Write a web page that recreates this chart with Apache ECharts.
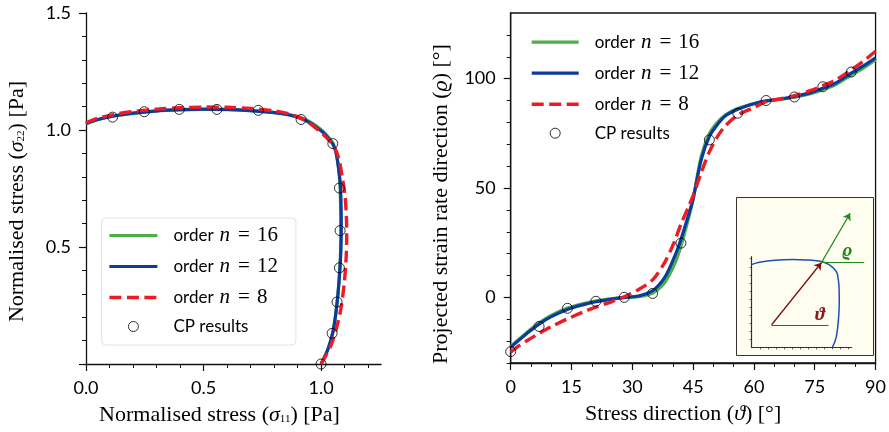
<!DOCTYPE html>
<html lang="en">
<head>
    <meta charset="utf-8">
    <title>Yield locus and strain rate direction</title>
    <script src="https://cdn.jsdelivr.net/npm/echarts@6/dist/echarts.min.js"></script>
    <style>
        html, body { margin: 0; padding: 0; background: #fff; }
        #chart { width: 889px; height: 432px; }
    </style>
</head>
<body>
<div id="chart"></div>
<script type="text/javascript">
    // ---- left panel: yield locus (sigma11, sigma22) ----
    var s11_n16 = [0, 0.05, 0.116, 0.2, 0.3, 0.4, 0.5, 0.6, 0.7, 0.8, 0.86, 0.911, 0.95, 0.982, 1.01, 1.035, 1.052, 1.065, 1.074, 1.08, 1.083, 1.084, 1.083, 1.079, 1.072, 1.062, 1.05, 1.03, 1.0];
    var s22_n16 = [1.027, 1.044, 1.059, 1.071, 1.081, 1.086, 1.088, 1.087, 1.083, 1.075, 1.067, 1.054, 1.037, 1.016, 0.993, 0.965, 0.94, 0.9, 0.84, 0.77, 0.68, 0.57, 0.48, 0.4, 0.3, 0.21, 0.135, 0.065, 0];
    var s11_n12 = [0, 0.05, 0.116, 0.2, 0.3, 0.4, 0.5, 0.6, 0.7, 0.8, 0.86, 0.911, 0.95, 0.982, 1.01, 1.035, 1.05, 1.063, 1.074, 1.082, 1.085, 1.086, 1.084, 1.08, 1.072, 1.062, 1.05, 1.03, 1.0];
    var s22_n12 = [1.027, 1.045, 1.06, 1.072, 1.082, 1.087, 1.089, 1.088, 1.083, 1.074, 1.065, 1.05, 1.032, 1.01, 0.988, 0.96, 0.94, 0.905, 0.84, 0.77, 0.68, 0.57, 0.48, 0.4, 0.3, 0.21, 0.135, 0.065, 0];
    var s11_n8 = [0, 0.05, 0.116, 0.2, 0.3, 0.4, 0.5, 0.6, 0.7, 0.8, 0.86, 0.911, 0.95, 0.982, 1.01, 1.035, 1.055, 1.075, 1.09, 1.102, 1.108, 1.109, 1.106, 1.098, 1.085, 1.065, 1.04, 1.0];
    var s22_n8 = [1.03, 1.05, 1.066, 1.079, 1.089, 1.095, 1.098, 1.097, 1.092, 1.082, 1.07, 1.052, 1.03, 1.005, 0.98, 0.955, 0.93, 0.88, 0.8, 0.72, 0.62, 0.54, 0.44, 0.34, 0.24, 0.15, 0.075, 0];
    var cp_s11 = [0.113, 0.248, 0.397, 0.557, 0.733, 0.915, 1.05, 1.078, 1.081, 1.078, 1.068, 1.047, 1.0];
    var cp_s22 = [1.055, 1.078, 1.088, 1.088, 1.084, 1.045, 0.942, 0.752, 0.57, 0.411, 0.265, 0.131, 0.0];

    // ---- right panel: projected strain rate direction vs stress direction ----
    var theta = [0, 2, 4, 7, 10, 14, 18, 21, 25, 28, 31.5, 35, 38, 40.5, 42, 44, 45, 47, 49, 51, 53, 56, 60, 63, 67, 70, 74, 77, 80, 84, 87, 90];
    var rho_n16 = [-22.5, -19.2, -16, -11.6, -8.2, -4.9, -2.8, -1.6, -0.6, -0.1, 0.3, 2.0, 6.8, 15.5, 23.5, 37, 45, 64.5, 74.8, 80, 83.5, 86.3, 88.6, 89.7, 90.7, 91.5, 93.1, 95, 97.1, 101.6, 104.8, 108.5];
    var rho_n12 = [-22.8, -19.6, -16.5, -12.2, -8.8, -5.5, -3.3, -2.0, -0.8, 0, 0.6, 3.0, 9.1, 19, 26.6, 38.5, 45, 63, 73.5, 79, 83, 86, 88.5, 89.8, 90.8, 91.8, 93.6, 95.6, 97.8, 102.5, 105.8, 109.5];
    var rho_n8 = [-25, -22.2, -19.8, -16.5, -13.4, -9.8, -6.6, -4.5, -1.9, 0.3, 3.5, 8.0, 16, 26, 33.5, 42, 46.5, 57, 66.5, 73.5, 78.5, 83.3, 86.8, 89.5, 90.9, 92.2, 94.6, 96.8, 99.2, 104, 108, 112.5];
    var cp_theta = [0, 7, 14, 21, 28, 35, 42, 49, 56, 63, 70, 77, 84];
    var cp_rho = [-24.8, -13.3, -5.0, -1.8, 0, 1.8, 24.8, 72.0, 84.2, 90.0, 91.6, 96.3, 103.0];

    // ---- inset sketch: stress direction (red) and strain rate direction (green) ----
    var insetTheta = [[0.247, 0.28], [0.864, 1.05]];
    var insetThetaRef = [[0.247, 0.28], [0.952, 0.28]];
    var insetRho = [[0.864, 1.05], [1.221, 1.665]];
    var insetRhoRef = [[0.864, 1.05], [1.395, 1.05]];

    // ---- ticks ----
    var leftXMajor = [0, 0.5, 1.0];
    var leftXMinor = [0.1, 0.2, 0.3, 0.4, 0.6, 0.7, 0.8, 0.9, 1.1, 1.2];
    var leftYMajor = [0, 0.5, 1.0, 1.5];
    var leftYLabels = [0.5, 1.0, 1.5];
    var leftYMinor = [0.1, 0.2, 0.3, 0.4, 0.6, 0.7, 0.8, 0.9, 1.1, 1.2, 1.3, 1.4];
    var rightXMajor = [0, 15, 30, 45, 60, 75, 90];
    var rightXMinor = [5, 10, 20, 25, 35, 40, 50, 55, 65, 70, 80, 85];
    var rightYMajor = [0, 50, 100];
    var rightYMinor = [-30, -20, -10, 10, 20, 30, 40, 60, 70, 80, 90, 110, 120];
    var insetXTicks = [0.1, 0.2, 0.3, 0.4, 0.5, 0.6, 0.7, 0.8, 0.9, 1.0, 1.1, 1.2];
    var insetYTicks = [0.1, 0.2, 0.3, 0.4, 0.5, 0.6, 0.7, 0.8, 0.9, 1.0, 1.1];

    var orders = [16, 12, 8];
    var names = ['n16', 'n12', 'n8', 'cp'];

    var GREEN = '#4dae4a', BLUE = '#0b3c9c', RED = '#ec1c24';
    var SANS = 'Lato', SERIF = 'Liberation Serif';

    function pair(xs, ys) {
        return xs.map(function (x, i) { return [x, ys[i]]; });
    }

    var nameRich = {
        i: { fontFamily: SERIF, fontStyle: 'italic', fontSize: 22, color: '#000' },
        s: { fontFamily: SERIF, fontSize: 11, color: '#000', padding: [8, 0, 0, 0] }
    };
    function axisName(pad) {
        return { fontFamily: SERIF, fontSize: 22, color: '#000', padding: pad, rich: nameRich };
    }
    var lineAxis = { show: true, onZero: false, lineStyle: { color: '#111', width: 1.3 } };
    var tickLabel = { fontFamily: SANS, fontSize: 18, color: '#000' };

    function mainAxis(grid, min, max, major, labels, fmt, extra) {
        var a = {
            type: 'value', gridIndex: grid, min: min, max: max,
            axisLine: lineAxis,
            axisTick: { show: true, customValues: major, length: 7, lineStyle: { color: '#111', width: 1.2 } },
            axisLabel: Object.assign({ show: true, customValues: labels, margin: 15, formatter: fmt }, tickLabel),
            splitLine: { show: false }
        };
        return Object.assign(a, extra);
    }
    function minorAxis(grid, min, max, minor, pos) {
        return {
            type: 'value', gridIndex: grid, min: min, max: max, position: pos,
            axisLine: { show: false, onZero: false },
            axisTick: { show: true, customValues: minor, length: 4, lineStyle: { color: '#111', width: 1 } },
            axisLabel: { show: false },
            splitLine: { show: false }
        };
    }
    function insetAxis(grid, max, ticks, visible) {
        return {
            type: 'value', gridIndex: grid, min: 0, max: max, show: visible,
            axisLine: { show: true, onZero: false, lineStyle: { color: '#333', width: 1.2 } },
            axisTick: { show: true, customValues: ticks, length: 2, lineStyle: { color: '#333', width: 0.8 } },
            axisLabel: { show: false }, splitLine: { show: false }
        };
    }
    var f1 = function (v) { return v.toFixed(1); };
    var f0 = function (v) { return String(Math.round(v)); };

    var legendFmt = function (name) {
        if (name === 'cp') return '{o|CP results}';
        return '{o|order}{m|n}{r|=}{d|' + orders[names.indexOf(name)] + '}';
    };
    var legendRich = {
        o: { fontFamily: SANS, fontSize: 17, color: '#000', lineHeight: 20 },
        m: { fontFamily: SERIF, fontStyle: 'italic', fontSize: 21, color: '#000', lineHeight: 20, padding: [0, 7, 0, 6] },
        r: { fontFamily: SERIF, fontSize: 21, color: '#000', lineHeight: 20, padding: [0, 7, 0, 1] },
        d: { fontFamily: SERIF, fontSize: 21, color: '#000', lineHeight: 20 }
    };
    var legendData = names.map(function (n) {
        if (n === 'cp') {
            return { name: n, itemStyle: { color: 'rgba(0,0,0,0)', borderColor: '#000', borderWidth: 1 } };
        }
        return { name: n, itemStyle: { opacity: 0 } };
    });

    function curveSeries(name, color, data, xi, yi, dashed) {
        return {
            name: name, type: 'line', xAxisIndex: xi, yAxisIndex: yi,
            data: data, symbol: 'none', smooth: 0.3, silent: true,
            lineStyle: { color: color, width: dashed ? 3.4 : 3.2, type: dashed ? [12, 5.5] : 'solid', cap: 'butt' },
            itemStyle: { color: color }
        };
    }
    function cpSeries(data, xi, yi) {
        return {
            name: 'cp', type: 'scatter', xAxisIndex: xi, yAxisIndex: yi,
            data: data, symbol: 'circle', symbolSize: 10, silent: true, z: 5,
            itemStyle: { color: 'rgba(0,0,0,0)', borderColor: '#000', borderWidth: 1 }
        };
    }
    function sketchLine(from, to, color, width, arrow) {
        return [
            { coord: from, symbol: 'none', lineStyle: { color: color, width: width, type: 'solid' } },
            { coord: to, symbol: arrow ? 'arrow' : 'none', symbolSize: 7 }
        ];
    }

    var chart = echarts.init(document.getElementById('chart'), null, { renderer: 'canvas' });
    var option = {
        animation: false,
        backgroundColor: '#fff',
        grid: [
            { left: 86, top: 13, width: 295, height: 351, show: false },
            { left: 510.7, top: 13, width: 369.3, height: 350, show: true, borderColor: '#111', borderWidth: 1.3 },
            // inset axes (visible extent)
            { left: 751.7, top: 256.7, width: 100, height: 90.6, show: false },
            // inset drawing area, same origin and scale, larger extent
            { left: 751.7, top: 210.4, width: 114.5, height: 136.9, show: false }
        ],
        legend: [
            {
                data: legendData, orient: 'vertical', left: 101.7, top: 218,
                itemWidth: 48, itemHeight: 10, itemGap: 10,
                padding: [7, 18, 10, 6],
                backgroundColor: 'rgba(255,255,255,0.85)', borderColor: '#e2e2e2', borderWidth: 1, borderRadius: 4,
                selectedMode: false, formatter: legendFmt,
                lineStyle: { width: 'inherit' },
                textStyle: { padding: [0, 0, 0, 11], rich: legendRich }
            },
            {
                data: legendData, orient: 'vertical', left: 530, top: 31.7,
                itemWidth: 47, itemHeight: 10, itemGap: 10, padding: 0,
                selectedMode: false, formatter: legendFmt,
                lineStyle: { width: 'inherit' },
                textStyle: { padding: [0, 0, 0, 11], rich: legendRich }
            }
        ],
        xAxis: [
            mainAxis(0, 0, 1.255, leftXMajor, leftXMajor, f1, {
                name: 'Normalised stress ({i|σ}{s|11}) [Pa]', nameLocation: 'middle', nameGap: 40,
                nameTextStyle: axisName([0, 28, 0, 0])
            }),
            minorAxis(0, 0, 1.255, leftXMinor, 'bottom'),
            mainAxis(1, 0, 90, rightXMajor, rightXMajor, f0, {
                name: 'Stress direction ({i|ϑ}) [°]', nameLocation: 'middle', nameGap: 40,
                nameTextStyle: axisName([0, 20, 0, 0])
            }),
            minorAxis(1, 0, 90, rightXMinor, 'bottom'),
            insetAxis(2, 1.24, insetXTicks, true),
            insetAxis(3, 1.42, [], false)
        ],
        yAxis: [
            mainAxis(0, 0, 1.5, leftYMajor, leftYLabels, f1, {
                name: 'Normalised stress ({i|σ}{s|22}) [Pa]', nameLocation: 'middle', nameGap: 58,
                nameTextStyle: axisName([0, 26, 0, 0])
            }),
            minorAxis(0, 0, 1.5, leftYMinor, 'left'),
            mainAxis(1, -30, 130, rightYMajor, rightYMajor, f0, {
                name: 'Projected strain rate direction ({i|ϱ}) [°]', nameLocation: 'middle', nameGap: 58,
                nameTextStyle: axisName([0, 32, 0, 0])
            }),
            minorAxis(1, -30, 130, rightYMinor, 'left'),
            insetAxis(2, 1.125, insetYTicks, true),
            insetAxis(3, 1.7, [], false)
        ],
        graphic: [
            {
                type: 'rect', z: -1, silent: true,
                shape: { x: 736.5, y: 197.5, width: 137, height: 158 },
                style: { fill: '#fffdf0', stroke: '#333', lineWidth: 1 }
            },
            {
                type: 'text', silent: true, z: 10, left: 842, top: 242,
                style: { text: 'ϱ', fill: '#1e8a1e', font: 'italic bold 19px "Liberation Serif", "DejaVu Serif"' }
            },
            {
                type: 'text', silent: true, z: 10, left: 815, top: 306,
                style: { text: 'ϑ', fill: '#8b1a1a', font: 'italic bold 19px "Liberation Serif", "DejaVu Serif"' }
            }
        ],
        series: [
            curveSeries('n16', GREEN, pair(s11_n16, s22_n16), 0, 0, false),
            curveSeries('n12', BLUE, pair(s11_n12, s22_n12), 0, 0, false),
            curveSeries('n8', RED, pair(s11_n8, s22_n8), 0, 0, true),
            cpSeries(pair(cp_s11, cp_s22), 0, 0),

            curveSeries('n16', GREEN, pair(theta, rho_n16), 2, 2, false),
            curveSeries('n12', BLUE, pair(theta, rho_n12), 2, 2, false),
            curveSeries('n8', RED, pair(theta, rho_n8), 2, 2, true),
            cpSeries(pair(cp_theta, cp_rho), 2, 2),

            // inset sketch: same locus with the two directions
            {
                name: 'inset', type: 'line', xAxisIndex: 5, yAxisIndex: 5, clip: false, silent: true,
                data: pair(s11_n12, s22_n12), symbol: 'none', smooth: 0.3,
                lineStyle: { color: '#1f4fb0', width: 1.5 },
                markLine: {
                    silent: true, symbol: ['none', 'none'], label: { show: false },
                    data: [
                        sketchLine(insetThetaRef[0], insetThetaRef[1], '#a03030', 1.2, false),
                        sketchLine(insetRhoRef[0], insetRhoRef[1], '#1e8a1e', 1.2, false),
                        sketchLine(insetTheta[0], insetTheta[1], '#7a1010', 1.3, true),
                        sketchLine(insetRho[0], insetRho[1], '#1e8a1e', 1.3, true)
                    ]
                }
            }
        ]
    };
    chart.setOption(option);
</script>
</body>
</html>
